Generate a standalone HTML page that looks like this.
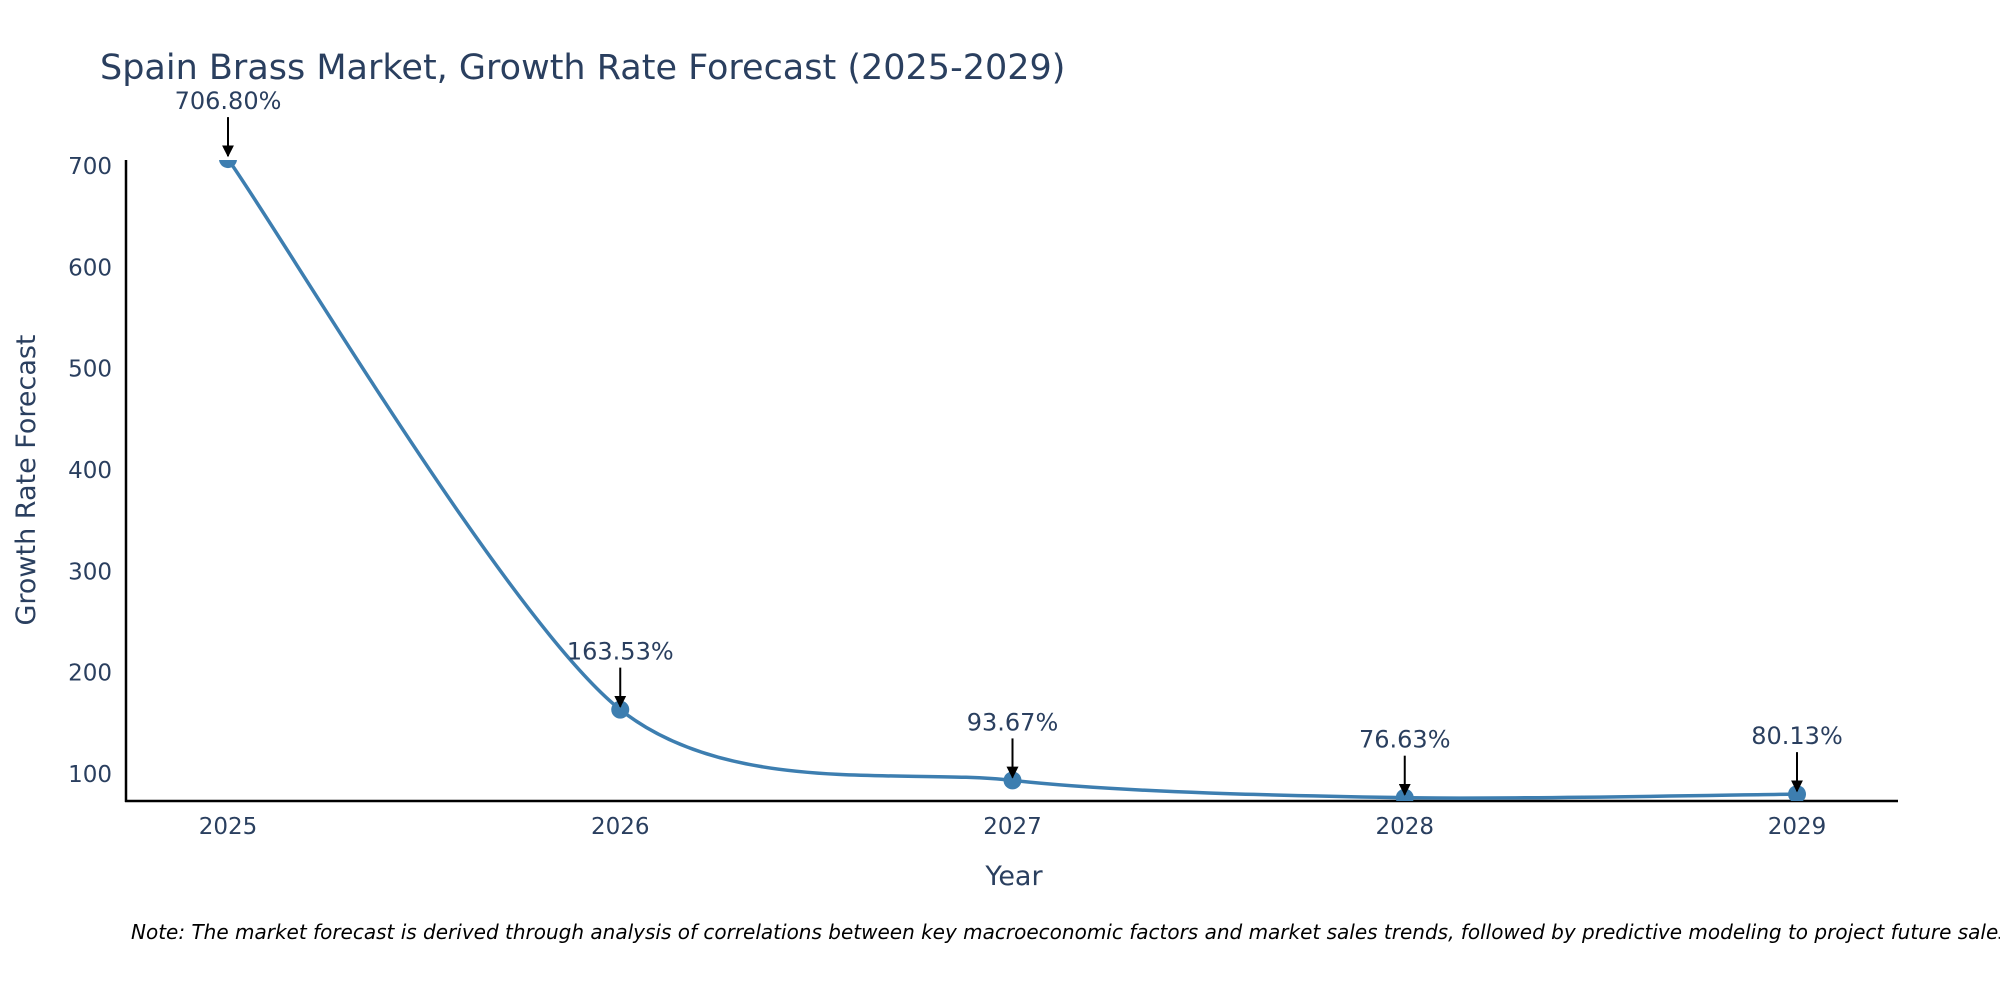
<!DOCTYPE html>
<html><head><meta charset="utf-8"><style>
body{margin:0;background:#fff;width:2000px;height:1000px;overflow:hidden;font-family:"DejaVu Sans",sans-serif}
</style></head><body>
<svg id="chart" width="2000" height="1000" xmlns="http://www.w3.org/2000/svg" font-family="DejaVu Sans, sans-serif">
<defs><clipPath id="plotclip"><rect x="126" y="160" width="1772" height="641"/></clipPath>
<marker id="arrow" viewBox="0 0 10 10" refX="9" refY="5" markerWidth="6" markerHeight="6" orient="auto"><path d="M0,0L10,5L0,10z" fill="#000"/></marker></defs>
<text x="100" y="79" font-size="35" fill="#2a3f5f">Spain Brass Market, Growth Rate Forecast (2025-2029)</text>
<g id="yticks"></g><g id="xticks"></g>
<line x1="126" y1="160" x2="126" y2="802" stroke="#000" stroke-width="2.5"/>
<line x1="125" y1="801" x2="1898" y2="801" stroke="#000" stroke-width="2.5"/>
<g clip-path="url(#plotclip)"><path id="line" fill="none" stroke="#3d7eb0" stroke-width="3.5"/><g id="markers"></g></g>
<g id="annots"></g>
<text transform="translate(35,480) rotate(-90)" text-anchor="middle" font-size="27" fill="#2a3f5f">Growth Rate Forecast</text>
<text x="1014" y="885" text-anchor="middle" font-size="27" fill="#2a3f5f">Year</text>
<text x="131" y="939" font-size="20" font-style="italic" fill="#000">Note: The market forecast is derived through analysis of correlations between key macroeconomic factors and market sales trends, followed by predictive modeling to project future sales.</text>
</svg>
<script>
const years=["2025","2026","2027","2028","2029"];
const values=[706.80,163.53,93.67,76.63,80.13];
const labels=["706.80%","163.53%","93.67%","76.63%","80.13%"];
const yTicks=[100,200,300,400,500,600,700];
const NS="http://www.w3.org/2000/svg";
const xs=i=>228+i*(1797-228)/(years.length-1);
const ys=v=>774-(v-100)*(774-166)/600;
function mk(t,a,p){const e=document.createElementNS(NS,t);for(const k in a)e.setAttribute(k,a[k]);p.appendChild(e);return e;}
const yt=document.getElementById('yticks');
yTicks.forEach(v=>{const t=mk('text',{x:112,y:ys(v)+8,'text-anchor':'end','font-size':23,fill:'#2a3f5f'},yt);t.textContent=v;

});
const xt=document.getElementById('xticks');
years.forEach((y,i)=>{const t=mk('text',{x:xs(i),y:834,'text-anchor':'middle','font-size':23,fill:'#2a3f5f'},xt);t.textContent=y;

});
const P=values.map((v,i)=>[xs(i),ys(v)]);
let d=`M${P[0][0]},${P[0][1]}`;
for(let i=0;i<P.length-1;i++){const p0=P[Math.max(i-1,0)],p1=P[i],p2=P[i+1],p3=P[Math.min(i+2,P.length-1)];const k=0.14;
d+=` C${p1[0]+(p2[0]-p0[0])*k},${p1[1]+(p2[1]-p0[1])*k} ${p2[0]-(p3[0]-p1[0])*k},${p2[1]-(p3[1]-p1[1])*k} ${p2[0]},${p2[1]}`;}
document.getElementById('line').setAttribute('d',d);
const mg=document.getElementById('markers'),an=document.getElementById('annots');
P.forEach((p,i)=>{const c=mk('circle',{cx:p[0],cy:p[1],r:9,fill:'#3d7eb0'},mg);


const l=mk('line',{x1:p[0],y1:p[1]-42,x2:p[0],y2:p[1]-3,stroke:'#000','stroke-width':2,'marker-end':'url(#arrow)'},an);


const t=mk('text',{x:p[0],y:p[1]-50,'text-anchor':'middle','font-size':24,fill:'#2a3f5f'},an);t.textContent=labels[i];

});
</script></body></html>
